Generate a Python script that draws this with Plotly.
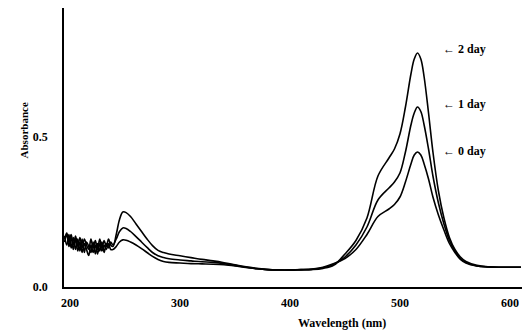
import plotly.graph_objects as go

wavelength = [195, 197, 199, 201, 203, 205, 207, 209, 211, 213, 215, 217, 219, 221, 223, 225, 227, 229, 231, 233, 235, 237, 239,
              242, 245, 248, 251, 255, 260, 265, 270, 275, 280, 285, 290, 300, 310, 320, 330, 340, 350, 360, 370, 380, 390, 400,
              410, 420, 430, 440, 450, 460, 470, 480, 490, 495, 500, 505, 510, 513, 516, 519, 522, 526, 530, 535, 540, 545,
              550, 555, 560, 570, 580, 590, 600, 610]

day0 = [0.150, 0.175, 0.135, 0.165, 0.125, 0.160, 0.120, 0.150, 0.115, 0.145, 0.125, 0.105, 0.140, 0.115, 0.140, 0.110, 0.145, 0.120, 0.140, 0.125, 0.145, 0.125, 0.125,
        0.135, 0.150, 0.157, 0.156, 0.150, 0.140, 0.128, 0.115, 0.102, 0.092, 0.085, 0.082, 0.080, 0.078, 0.077, 0.076, 0.074, 0.070, 0.065, 0.061, 0.058, 0.057, 0.057,
        0.058, 0.060, 0.066, 0.078, 0.095, 0.125, 0.175, 0.235, 0.260, 0.275, 0.300, 0.350, 0.410, 0.440, 0.450, 0.440, 0.410, 0.360, 0.300, 0.240, 0.190, 0.145,
        0.115, 0.092, 0.080, 0.070, 0.067, 0.066, 0.066, 0.066]

day1 = [0.170, 0.140, 0.175, 0.130, 0.165, 0.125, 0.160, 0.120, 0.160, 0.115, 0.150, 0.135, 0.115, 0.150, 0.110, 0.145, 0.120, 0.150, 0.115, 0.145, 0.130, 0.150, 0.140,
        0.160, 0.185, 0.197, 0.195, 0.185, 0.168, 0.150, 0.132, 0.115, 0.104, 0.098, 0.094, 0.090, 0.087, 0.084, 0.082, 0.078, 0.072, 0.066, 0.061, 0.058, 0.057, 0.057,
        0.058, 0.059, 0.064, 0.076, 0.100, 0.140, 0.200, 0.290, 0.330, 0.350, 0.380, 0.450, 0.540, 0.580, 0.600, 0.585, 0.540, 0.460, 0.370, 0.280, 0.210, 0.155,
        0.120, 0.095, 0.082, 0.070, 0.067, 0.066, 0.066, 0.066]

day2 = [0.160, 0.180, 0.150, 0.175, 0.140, 0.170, 0.135, 0.165, 0.130, 0.160, 0.140, 0.125, 0.160, 0.130, 0.155, 0.125, 0.160, 0.130, 0.155, 0.135, 0.160, 0.140, 0.135,
        0.175, 0.225, 0.250, 0.248, 0.235, 0.210, 0.185, 0.160, 0.138, 0.122, 0.115, 0.110, 0.104, 0.098, 0.092, 0.087, 0.081, 0.074, 0.067, 0.062, 0.058, 0.057, 0.056,
        0.057, 0.058, 0.062, 0.073, 0.110, 0.155, 0.230, 0.370, 0.430, 0.460, 0.510, 0.600, 0.710, 0.760, 0.780, 0.760, 0.700, 0.580, 0.450, 0.320, 0.230, 0.165,
        0.125, 0.100, 0.085, 0.072, 0.067, 0.066, 0.066, 0.066]

series = {"0 day": day0, "1 day": day1, "2 day": day2}
label_y = {"0 day": 0.455, "1 day": 0.61, "2 day": 0.795}

x_ticks = [200, 300, 400, 500, 600]
y_ticks = [0.0, 0.5]

font = "Liberation Serif, Times New Roman, serif"

fig = go.Figure()
for name, vals in series.items():
    fig.add_trace(go.Scatter(x=wavelength, y=vals, mode="lines", name=name,
                             line=dict(color="black", width=1.6), line_shape="spline"))
    fig.add_annotation(x=537, y=label_y[name], text="<b>\u2190 " + name + "</b>", showarrow=False,
                       xanchor="left", yanchor="middle",
                       font=dict(family=font, size=12, color="black"))

fig.add_annotation(xref="paper", yref="paper", x=0.606, y=-0.129, yanchor="middle",
                   text="<b>Wavelength (nm)</b>", showarrow=False,
                   font=dict(family=font, size=12, color="black"))
fig.add_annotation(xref="paper", yref="paper", x=-0.088, y=0.56, xanchor="center", yanchor="middle",
                   text="<b>Absorbance</b>", showarrow=False, textangle=-90,
                   font=dict(family=font, size=11, color="black"))

fig.update_layout(
    width=527, height=332,
    margin=dict(l=64, r=5, t=8, b=45),
    plot_bgcolor="white", paper_bgcolor="white",
    showlegend=False,
    font=dict(family=font, size=12, color="black"),
)
fig.update_xaxes(range=[194.5, 611], tickvals=x_ticks, ticktext=[f"<b>{v}</b>" for v in x_ticks],
                 showline=True, linecolor="black", linewidth=1.8, ticks="", showgrid=False,
                 zeroline=False, ticklabelstandoff=4)
fig.update_yaxes(range=[0, 0.93], tickvals=y_ticks, ticktext=["<b>0.0</b>", "<b>0.5</b>"],
                 showline=True, linecolor="black", linewidth=1.8, ticks="", showgrid=False,
                 zeroline=False, ticklabelstandoff=12)

fig.write_html("out.html")
